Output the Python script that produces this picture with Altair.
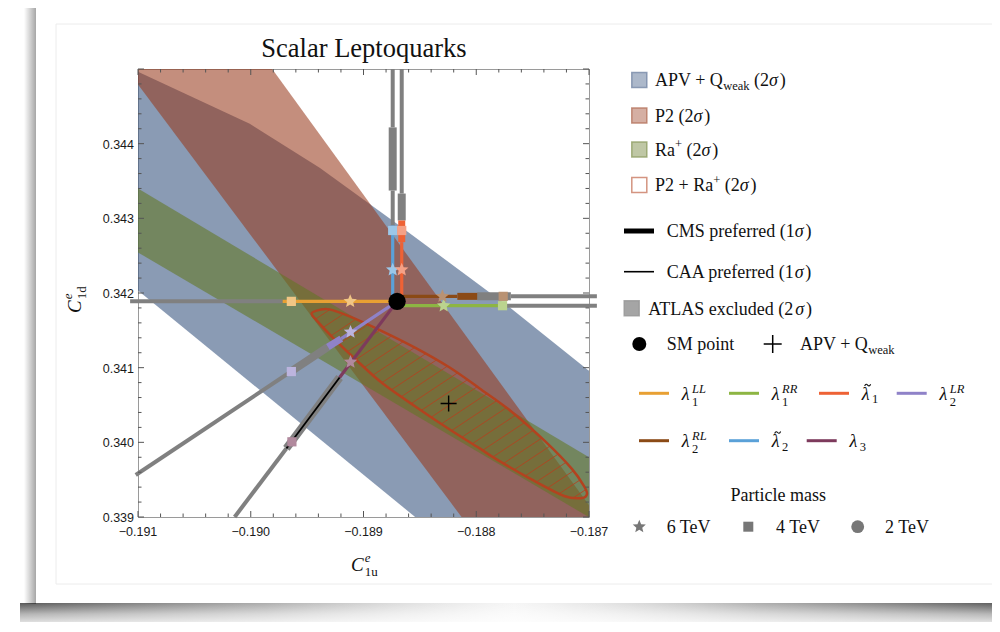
import altair as alt
import numpy as np
import pandas as pd

# ---------------- data ----------------
X_DOMAIN = [-0.191, -0.187]
Y_DOMAIN = [0.339, 0.345]
x_major = [-0.191, -0.190, -0.189, -0.188, -0.187]
y_major = [0.339, 0.340, 0.341, 0.342, 0.343, 0.344]

# APV + Qweak (2 sigma) region outline
apv_x = [-0.191000, -0.190009, -0.189389, -0.188743, -0.187726, -0.187018, -0.186912, -0.186912, -0.188401, -0.191071, -0.191071]
apv_y = [0.344963, 0.344267, 0.343679, 0.342971, 0.341834, 0.340979, 0.340850, 0.338826, 0.338826, 0.342122, 0.344963]
# P2 (2 sigma) region outline
p2_x = [-0.191102, -0.189810, -0.186841, -0.188044]
p2_y = [0.345000, 0.345000, 0.338826, 0.338826]
# Ra+ (2 sigma) region outline
ra_x = [-0.191071, -0.186912, -0.186912, -0.191071]
ra_y = [0.343463, 0.339721, 0.338920, 0.342606]
# P2 + Ra+ (2 sigma) ellipse outline
ell_x = [-0.189460, -0.189389, -0.189301, -0.189124, -0.188832, -0.188531, -0.188239, -0.187973, -0.187681, -0.187381, -0.187150, -0.187044,
         -0.187018, -0.187062, -0.187221, -0.187531, -0.187823, -0.187973, -0.188239, -0.188531, -0.188832, -0.189062, -0.189274, -0.189416]
ell_y = [0.341727, 0.341774, 0.341781, 0.341687, 0.341487, 0.341259, 0.341005, 0.340725, 0.340404, 0.340003, 0.339642, 0.339414,
         0.339307, 0.339254, 0.339281, 0.339521, 0.339775, 0.339922, 0.340176, 0.340471, 0.340791, 0.341099, 0.341406, 0.341634]

sm_point = (-0.188702, 0.341888)
apv_best = (-0.188245, 0.340520)

lq_names = ["λ1LL", "λ1RR", "λt1", "λ2LR", "λ2RL", "λt2", "λ3"]

# leptoquark paths: (leptoquark, kind, x1, y1, x2, y2)
segments = [
    ("λ1LL", "lq", -0.188702, 0.341888, -0.189717, 0.341888),
    ("λ1LL", "ext", -0.189717, 0.341888, -0.191070, 0.341888),
    ("λ1RR", "lq", -0.188702, 0.341830, -0.187770, 0.341830),
    ("λ1RR", "ext", -0.187770, 0.341830, -0.186930, 0.341830),
    ("λ2RL", "lq", -0.188702, 0.341955, -0.188168, 0.341955),
    ("λ2RL", "cms", -0.188168, 0.341955, -0.187991, 0.341955),
    ("λ2RL", "atlas", -0.187991, 0.341955, -0.187693, 0.341955),
    ("λ2RL", "ext", -0.187693, 0.341955, -0.186930, 0.341955),
    ("λt2", "lq", -0.188741, 0.341888, -0.188741, 0.342904),
    ("λt2", "ext", -0.188741, 0.342904, -0.188741, 0.343372),
    ("λt2", "atlas", -0.188741, 0.343372, -0.188741, 0.344218),
    ("λt2", "ext", -0.188741, 0.344218, -0.188741, 0.345000),
    ("λt1", "lq", -0.188661, 0.341888, -0.188661, 0.342681),
    ("λt1", "cms", -0.188661, 0.342681, -0.188661, 0.342971),
    ("λt1", "atlas", -0.188661, 0.342971, -0.188661, 0.343332),
    ("λt1", "ext", -0.188661, 0.343332, -0.188661, 0.345000),
    ("λ2LR", "lq", -0.188702, 0.341888, -0.189197, 0.341389),
    ("λ2LR", "cms", -0.189197, 0.341389, -0.189316, 0.341277),
    ("λ2LR", "atlas", -0.189316, 0.341277, -0.189626, 0.340965),
    ("λ2LR", "ext", -0.189626, 0.340965, -0.191020, 0.339563),
    ("λ3", "lq", -0.188702, 0.341888, -0.189212, 0.340868),
    ("λ3", "atlas", -0.189212, 0.340868, -0.189684, 0.339918),
    ("λ3", "caa", -0.189212, 0.340868, -0.189684, 0.339918),
    ("λ3", "ext", -0.189684, 0.339918, -0.190143, 0.339000),
]

# mass points on each path: (leptoquark, mass TeV, x, y)
mass_points = [
    ("λ1LL", 6, -0.189118, 0.341888), ("λ1LL", 4, -0.189640, 0.341888),
    ("λ1RR", 6, -0.188289, 0.341830), ("λ1RR", 4, -0.187767, 0.341830),
    ("λ2RL", 6, -0.188300, 0.341955), ("λ2RL", 4, -0.187761, 0.341955),
    ("λt2", 6, -0.188741, 0.342311), ("λt2", 4, -0.188741, 0.342837),
    ("λt1", 6, -0.188661, 0.342311), ("λt1", 4, -0.188661, 0.342837),
    ("λ2LR", 6, -0.189115, 0.341477), ("λ2LR", 4, -0.189640, 0.340948),
    ("λ3", 6, -0.189115, 0.341076), ("λ3", 4, -0.189635, 0.340007),
]

# ---------------- styles ----------------
W, H = 451, 448
BLUE, RED, GREEN = "#3c5882", "#97391a", "#627723"
ELL_COL = "#b3421f"
GREY = "#808080"
lq_colors = {"λ1LL": "#e8a033", "λ1RR": "#8db543", "λt1": "#ee6235", "λ2LR": "#8f82c8",
             "λ2RL": "#8b4a16", "λt2": "#5aa1d8", "λ3": "#7d3a5c"}
kind_width = {"ext": 4, "atlas": 8, "lq": 3.2, "cms": 7, "caa": 1.8}
FS, SFS = 18, 12.5     # legend font size, script size


def lighten(hexc, t=0.4):
    r, g, b = int(hexc[1:3], 16), int(hexc[3:5], 16), int(hexc[5:7], 16)
    r, g, b = [int(round(v + (255 - v) * t)) for v in (r, g, b)]
    return "#%02x%02x%02x" % (r, g, b)


# five-pointed star symbol path (unit radius)
_pts = []
for k in range(10):
    ang = np.deg2rad(-90 + 36 * k)
    rr = 1.0 if k % 2 == 0 else 0.45
    _pts.append("%.4f,%.4f" % (rr * np.cos(ang), rr * np.sin(ang)))
STAR = "M" + "L".join(_pts) + "Z"
CROSS = "M-1,0H1M0,-1V1"
TILDE = "M-1,0.3C-0.65,-0.45,-0.3,-0.35,0,0C0.3,0.35,0.65,0.45,1,-0.3"

xs = alt.Scale(domain=X_DOMAIN, nice=False, zero=False)
ys = alt.Scale(domain=Y_DOMAIN, nice=False, zero=False)
SERIF = "Liberation Serif"


def XQ(f="x"):
    return alt.X(f"{f}:Q", scale=xs, axis=None)


def YQ(f="y"):
    return alt.Y(f"{f}:Q", scale=ys, axis=None)


def XP(f="x"):
    return alt.X(f"{f}:Q", scale=None, axis=None)


def YP(f="y"):
    return alt.Y(f"{f}:Q", scale=None, axis=None)


layers = []
one = pd.DataFrame({"a": [0]})

# ---------------- page decoration (card & shadow) ----------------
layers.append(alt.Chart(one).mark_rect(
    fill=alt.LinearGradient(gradient="linear", x1=0, x2=1, y1=0, y2=0,
                            stops=[alt.GradientStop(color="rgba(80,80,80,0.95)", offset=0),
                                   alt.GradientStop(color="rgba(120,120,120,0.6)", offset=0.25),
                                   alt.GradientStop(color="rgba(210,210,210,0.2)", offset=0.5),
                                   alt.GradientStop(color="rgba(120,120,120,0.6)", offset=0.75),
                                   alt.GradientStop(color="rgba(80,80,80,0.95)", offset=1)])).encode(
    x=alt.value(-118), x2=alt.value(870), y=alt.value(534), y2=alt.value(556)))
layers.append(alt.Chart(one).mark_rect(
    fill=alt.LinearGradient(gradient="linear", x1=0, x2=0, y1=0, y2=1,
                            stops=[alt.GradientStop(color="rgba(255,255,255,0)", offset=0),
                                   alt.GradientStop(color="rgba(255,255,255,0.55)", offset=0.5),
                                   alt.GradientStop(color="rgba(255,255,255,0.9)", offset=1)])).encode(
    x=alt.value(-118), x2=alt.value(870), y=alt.value(534), y2=alt.value(556)))
layers.append(alt.Chart(one).mark_rect(
    fill=alt.LinearGradient(gradient="linear", x1=0, x2=1, y1=0, y2=0,
                            stops=[alt.GradientStop(color="rgba(0,0,0,0)", offset=0),
                                   alt.GradientStop(color="rgba(0,0,0,0.35)", offset=1)])).encode(
    x=alt.value(-114), x2=alt.value(-102), y=alt.value(-62), y2=alt.value(535)))
layers.append(alt.Chart(one).mark_rect(fill="none", stroke="#ececec", strokeWidth=1).encode(
    x=alt.value(-82), x2=alt.value(870), y=alt.value(-45), y2=alt.value(515)))


# ---------------- regions ----------------
def poly(xv, yv, color, op):
    df = pd.DataFrame({"x": xv, "y": yv, "o": list(range(len(xv)))})
    return alt.Chart(df).mark_line(interpolate="linear-closed", fill=color, fillOpacity=op,
                                   strokeOpacity=0, clip=True).encode(
        x=XQ(), y=YQ(), order=alt.Order("o:Q"))


layers.append(poly(apv_x, apv_y, BLUE, 0.6))
layers.append(poly(p2_x, p2_y, RED, 0.57))
layers.append(poly(ra_x, ra_y, GREEN, 0.58))

# ellipse hatch (lines y = x + c clipped to the ellipse outline)
ex = np.array(ell_x + [ell_x[0]])
ey = np.array(ell_y + [ell_y[0]])
dd = ey - ex
hatch = []
for c in np.arange(dd.min() + 0.00008, dd.max(), 0.00018):
    f = dd - c
    pts = []
    for i in range(len(f) - 1):
        if (f[i] > 0) != (f[i + 1] > 0):
            t = f[i] / (f[i] - f[i + 1])
            pts.append((ex[i] + t * (ex[i + 1] - ex[i]), ey[i] + t * (ey[i + 1] - ey[i])))
    pts.sort()
    for j in range(0, len(pts) - 1, 2):
        hatch.append({"x": pts[j][0], "y": pts[j][1], "x2": pts[j + 1][0], "y2": pts[j + 1][1]})
layers.append(alt.Chart(pd.DataFrame(hatch)).mark_rule(stroke=ELL_COL, strokeWidth=1, strokeOpacity=0.85, clip=True).encode(
    x=XQ(), y=YQ(), x2="x2:Q", y2="y2:Q"))

ell_df = pd.DataFrame({"x": ell_x, "y": ell_y, "o": list(range(len(ell_x)))})
layers.append(alt.Chart(ell_df).mark_line(interpolate="cardinal-closed", stroke=ELL_COL, strokeWidth=2.5, clip=True).encode(
    x=XQ(), y=YQ(), order=alt.Order("o:Q")))

# ---------------- leptoquark paths ----------------
seg_df = pd.DataFrame(segments, columns=["lq", "kind", "x", "y", "x2", "y2"])
seg_df["col"] = [GREY if k in ("ext", "atlas") else ("#000000" if k == "caa" else lq_colors[l])
                 for l, k in zip(seg_df["lq"], seg_df["kind"])]
seg_df["w"] = [kind_width[k] for k in seg_df["kind"]]
for kind in ["ext", "atlas", "lq", "cms", "caa"]:
    layers.append(alt.Chart(seg_df[seg_df["kind"] == kind]).mark_rule(strokeCap="butt", clip=(kind != "ext")).encode(
        x=XQ(), y=YQ(), x2="x2:Q", y2="y2:Q",
        stroke=alt.Stroke("col:N", scale=None), strokeWidth=alt.StrokeWidth("w:Q", scale=None)))

mp_df = pd.DataFrame(mass_points, columns=["lq", "mass", "x", "y"])
mp_df["col"] = [lighten(lq_colors[l]) for l in mp_df["lq"]]
mp_df["shape"] = [STAR if m == 6 else ("square" if m == 4 else "circle") for m in mp_df["mass"]]
mp_df["sz"] = [200 if m == 6 else 85 for m in mp_df["mass"]]
layers.append(alt.Chart(mp_df).mark_point(filled=True, opacity=1, clip=True).encode(
    x=XQ(), y=YQ(), fill=alt.Fill("col:N", scale=None), shape=alt.Shape("shape:N", scale=None),
    size=alt.Size("sz:Q", scale=None)))

layers.append(alt.Chart(pd.DataFrame({"x": [sm_point[0]], "y": [sm_point[1]]})).mark_circle(
    size=300, color="black", opacity=1).encode(x=XQ(), y=YQ()))
layers.append(alt.Chart(pd.DataFrame({"x": [apv_best[0]], "y": [apv_best[1]]})).mark_point(
    shape=CROSS, size=256, stroke="black", strokeWidth=1.4, filled=False, opacity=1).encode(x=XQ(), y=YQ()))

# ---------------- frame ticks (inward, all four sides) and tick labels ----------------
x_all = np.round(np.arange(X_DOMAIN[0], X_DOMAIN[1] + 1e-9, 0.0002), 4)
y_all = np.round(np.arange(Y_DOMAIN[0], Y_DOMAIN[1] + 1e-9, 0.0002), 4)
xt = pd.DataFrame({"x": x_all, "L": [6 if np.isclose(v * 1000, round(v * 1000)) else 3.5 for v in x_all]})
yt = pd.DataFrame({"y": y_all, "L": [6 if np.isclose(v * 1000, round(v * 1000)) else 3.5 for v in y_all]})
TK = "#555555"
for L in (6, 3.5):
    d = xt[xt["L"] == L]
    layers.append(alt.Chart(d).mark_rule(color=TK, strokeWidth=1).encode(
        x=XQ(), y=alt.value(H), y2=alt.value(H - L)))
    layers.append(alt.Chart(d).mark_rule(color=TK, strokeWidth=1).encode(
        x=XQ(), y=alt.value(0), y2=alt.value(L)))
    d = yt[yt["L"] == L]
    layers.append(alt.Chart(d).mark_rule(color=TK, strokeWidth=1).encode(
        y=YQ(), x=alt.value(0), x2=alt.value(L)))
    layers.append(alt.Chart(d).mark_rule(color=TK, strokeWidth=1).encode(
        y=YQ(), x=alt.value(W), x2=alt.value(W - L)))

xlab = pd.DataFrame({"x": x_major, "t": [("%.3f" % v).replace("-", "\u2212") for v in x_major]})
ylab = pd.DataFrame({"y": y_major, "t": ["%.3f" % v for v in y_major]})
layers.append(alt.Chart(xlab).mark_text(font="Liberation Sans", fontSize=12.5, color="#1a1a1a", align="center",
                                        baseline="alphabetic").encode(
    x=XQ(), y=alt.value(H + 19), text="t:N"))
layers.append(alt.Chart(ylab).mark_text(font="Liberation Sans", fontSize=12.5, color="#1a1a1a", align="right",
                                        baseline="middle", dy=1).encode(
    y=YQ(), x=alt.value(-4), text="t:N"))

# ---------------- text (rich text with sub/superscripts) ----------------
WID = {' ': 250, '(': 333, ')': 333, '+': 564, '1': 500, '2': 500, '3': 500, '4': 500, '6': 500,
       'A': 722, 'C': 667, 'L': 611, 'M': 889, 'P': 556, 'Q': 722, 'R': 667, 'S': 556, 'T': 611, 'V': 722, 'E': 611,
       'a': 444, 'c': 444, 'd': 500, 'e': 444, 'f': 333, 'i': 278, 'k': 500, 'l': 278, 'm': 778, 'n': 500,
       'o': 500, 'p': 500, 'q': 500, 'r': 333, 's': 389, 't': 278, 'u': 500, 'w': 722, 'x': 500, 'v': 500,
       'σ': 540, 'λ': 520}


def tw(s, size):
    return sum(WID.get(ch, 500) for ch in s) * size / 1000.0


tildes = []


def rich(pieces, x0, y0, size=FS, ssize=SFS, angle=0, sup=0.42, sub=0.22, ss_sup=0.36, ss_sub=0.36):
    rows, u = [], 0.0

    def put(txt, uu, vv, s, it):
        lead = len(txt) - len(txt.lstrip(" "))
        core = txt.strip(" ")
        trail = len(txt) - lead - len(core)
        uu += lead * 0.25 * s
        if core:
            rows.append((core, uu, vv, s, it))
        return lead * 0.25 * s + tw(core, s) + trail * 0.25 * s

    for p in pieces:
        k = p[0]
        if k == "ss":
            rows.append((p[1], u, -ss_sup * size, ssize, True))
            rows.append((p[2], u, ss_sub * size, ssize, False))
            u += max(tw(p[1], ssize), tw(p[2], ssize)) + 1
        elif k == "sub":
            u += put(p[1], u, sub * size, ssize, False)
        elif k == "sup":
            u += put(p[1], u, -sup * size, ssize, False)
        elif k == "tl":
            rows.append((p[1], u, 0, size, True))
            tildes.append({"x": x0 + u + 0.33 * size, "y": y0 - 0.8 * size})
            u += tw(p[1], size) + 1
        elif k == "i":
            u += put(p[1], u, 0, size, True) + 1
        else:
            u += put(p[1], u, 0, size, False)
    out = []
    for t, uu, vv, s, it in rows:
        if angle == 0:
            out.append({"t": t, "x": x0 + uu, "y": y0 + vv, "s": s, "it": it, "ang": 0})
        else:
            out.append({"t": t, "x": x0 + vv, "y": y0 - uu, "s": s, "it": it, "ang": 270})
    return out


SIG2 = [("r", " (2"), ("i", "σ"), ("r", ")")]
texts = []
# title and axis titles
TITLE = "Scalar Leptoquarks"
texts += rich([("r", TITLE)], 226 - tw(TITLE, 26.5) / 2, -12, size=26.5)
texts += rich([("i", "C"), ("ss", "e", "1u")], 213, 502, size=19, ssize=13, ss_sup=0.5, ss_sub=0.25)
texts += rich([("i", "C"), ("ss", "e", "1d")], -57, 244, size=19, ssize=13, angle=270, ss_sup=0.5, ss_sub=0.25)

# legend layout (pixels relative to the plot's top-left corner)
BOFF = 6.2
reg_rows = [11, 46.5, 80.5, 116]
reg_labels = [[("r", "APV + Q"), ("sub", "weak")] + SIG2,
              [("r", "P2")] + SIG2,
              [("r", "Ra"), ("sup", "+")] + SIG2,
              [("r", "P2 + Ra"), ("sup", "+")] + SIG2]
for yy, lab in zip(reg_rows, reg_labels):
    texts += rich(lab, 517, yy + BOFF)
texts += rich([("r", "CMS preferred (1"), ("i", "σ"), ("r", ")")], 528.7, 162 + BOFF)
texts += rich([("r", "CAA preferred (1"), ("i", "σ"), ("r", ")")], 528.7, 202.7 + BOFF)
texts += rich([("r", "ATLAS excluded (2"), ("i", "σ"), ("r", ")")], 510.3, 239.3 + BOFF)
texts += rich([("r", "SM point")], 528.7, 275 + BOFF)
texts += rich([("r", "APV + Q"), ("sub", "weak")], 662, 275 + BOFF)

lq_labels = {"λ1LL": [("i", "λ"), ("ss", "LL", "1")], "λ1RR": [("i", "λ"), ("ss", "RR", "1")],
             "λt1": [("tl", "λ"), ("sub", "1")], "λ2LR": [("i", "λ"), ("ss", "LR", "2")],
             "λ2RL": [("i", "λ"), ("ss", "RL", "2")], "λt2": [("tl", "λ"), ("sub", "2")],
             "λ3": [("i", "λ"), ("sub", "3")]}
lq_leg_pos = {"λ1LL": (501, 324.3), "λ1RR": (591, 324.3), "λt1": (681, 324.3), "λ2LR": (758.7, 324.3),
              "λ2RL": (501, 371.7), "λt2": (591, 371.7), "λ3": (668.7, 371.7)}
leg_lines = []
for n in lq_names:
    lx, ly = lq_leg_pos[n]
    leg_lines.append({"x": lx, "x2": lx + 30, "y": ly, "col": lq_colors[n], "w": 3})
    texts += rich(lq_labels[n], lx + 42.7, ly + BOFF)
leg_lines.append({"x": 486, "x2": 516, "y": 162, "col": "#000000", "w": 5})
leg_lines.append({"x": 486, "x2": 516, "y": 202.7, "col": "#000000", "w": 1.6})

texts += rich([("r", "Particle mass")], 640.3 - tw("Particle mass", FS) / 2, 432)
mass_leg = [(501.3, STAR, "6 TeV", 528.7, 190), (610.3, "square", "4 TeV", 638, 100), (719.7, "circle", "2 TeV", 747, 165)]
for mx, shp, lab, tx, sz in mass_leg:
    texts += rich([("r", lab)], tx, 457.7 + BOFF)

tdf = pd.DataFrame(texts)
for it in (False, True):
    for ang in (0, 270):
        d = tdf[(tdf["it"] == it) & (tdf["ang"] == ang)]
        if len(d) == 0:
            continue
        layers.append(alt.Chart(d).mark_text(font=SERIF, fontStyle="italic" if it else "normal", align="left",
                                             baseline="alphabetic", angle=ang, color="#111111").encode(
            x=XP(), y=YP(), text="t:N", size=alt.Size("s:Q", scale=None)))

# tilde accents over lambda
layers.append(alt.Chart(pd.DataFrame(tildes)).mark_point(shape=TILDE, size=36, stroke="#111111", strokeWidth=1.1,
                                                          filled=False, opacity=1).encode(x=XP(), y=YP()))

# legend symbols
sq = pd.DataFrame({"x": [501.3] * 4 + [493.7], "y": reg_rows + [239.3],
                   "fill": [BLUE, RED, GREEN, "#ffffff", "#808080"],
                   "fo": [0.6, 0.57, 0.58, 1.0, 1.0],
                   "stroke": [BLUE, RED, GREEN, ELL_COL, "#6a6a6a"]})
layers.append(alt.Chart(sq).mark_point(shape="square", filled=True, size=225, strokeWidth=1.5, strokeOpacity=0.8).encode(
    x=XP(), y=YP(), fill=alt.Fill("fill:N", scale=None), fillOpacity=alt.FillOpacity("fo:Q", scale=None),
    stroke=alt.Stroke("stroke:N", scale=None)))
layers.append(alt.Chart(pd.DataFrame(leg_lines)).mark_rule(strokeCap="butt").encode(
    x=XP(), x2="x2:Q", y=YP(), stroke=alt.Stroke("col:N", scale=None), strokeWidth=alt.StrokeWidth("w:Q", scale=None)))
layers.append(alt.Chart(pd.DataFrame({"x": [501.3], "y": [275]})).mark_circle(size=196, color="black", opacity=1).encode(
    x=XP(), y=YP()))
layers.append(alt.Chart(pd.DataFrame({"x": [634.7], "y": [275]})).mark_point(
    shape=CROSS, size=324, stroke="black", strokeWidth=1.5, filled=False, opacity=1).encode(x=XP(), y=YP()))
ml = pd.DataFrame({"x": [m[0] for m in mass_leg], "y": [457.7] * 3, "shape": [m[1] for m in mass_leg],
                   "sz": [m[4] for m in mass_leg]})
layers.append(alt.Chart(ml).mark_point(filled=True, color="#777777", opacity=1).encode(
    x=XP(), y=YP(), shape=alt.Shape("shape:N", scale=None), size=alt.Size("sz:Q", scale=None)))

chart = alt.layer(*layers).properties(
    width=W, height=H,
    padding={"left": 130, "top": 61, "right": 403, "bottom": 105},
    autosize=alt.AutoSizeParams(type="none"),
).configure_view(stroke="#9a9a9a", strokeWidth=1)

chart.save("out.html", embed_options={"renderer": "svg", "actions": False})
